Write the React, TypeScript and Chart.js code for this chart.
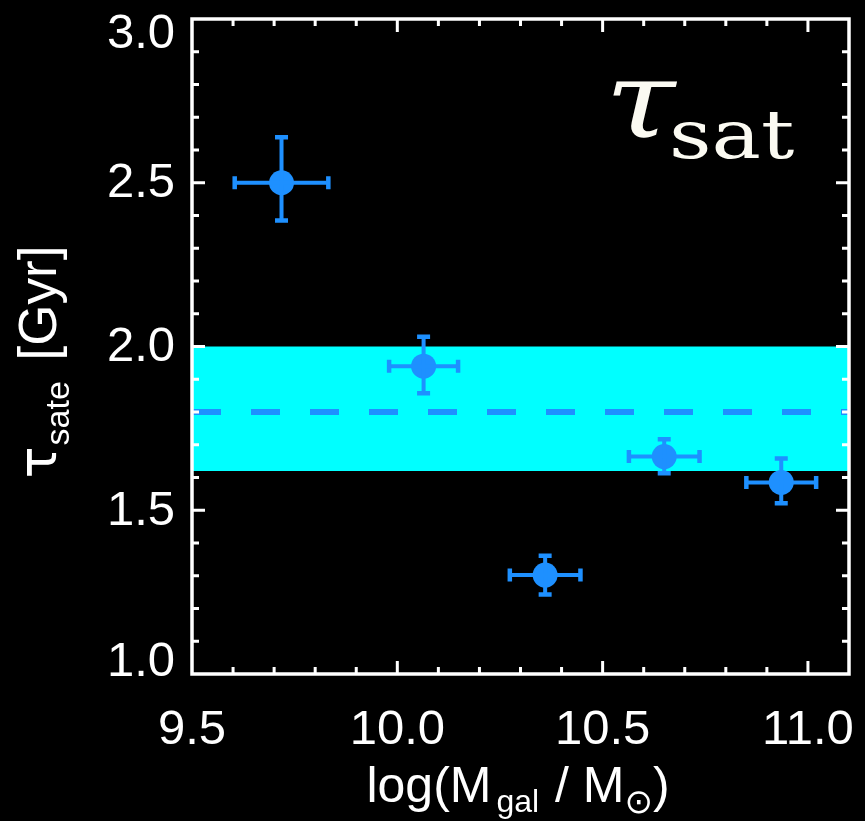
import React, { useEffect, useRef } from 'react';
import { Chart, registerables } from 'chart.js';

Chart.register(...registerables);

// ---- data ----
const massX = [9.718, 10.064, 10.36, 10.65, 10.935];
const massErr = [0.114, 0.084, 0.086, 0.086, 0.085];
const tauY = [2.5, 1.94, 1.302, 1.664, 1.585];
const tauErrUp = [0.139, 0.09, 0.059, 0.053, 0.073];
const tauErrDown = [0.115, 0.083, 0.059, 0.051, 0.064];

const bandLow = 1.62;
const bandHigh = 2.0;
const bandMid = 1.8;

const xMin = 9.5;
const xMax = 11.1;
const yMin = 1.0;
const yMax = 3.0;

const xTickValues = [9.5, 10.0, 10.5, 11.0];
const xTickLabels = ['9.5', '10.0', '10.5', '11.0'];
const yTickValues = [1.0, 1.5, 2.0, 2.5, 3.0];
const yTickLabels = ['1.0', '1.5', '2.0', '2.5', '3.0'];
const minorStep = 0.1;

const BLUE = '#1E90FF';
const CYAN = '#00FFFF';
const WHITE = '#ffffff';
const SANS = "'Liberation Sans', 'DejaVu Sans', Arial, sans-serif";
const SERIF = "'DejaVu Serif', 'Liberation Serif', serif";

function minorValues(lo: number, hi: number, majors: number[]) {
  const out: number[] = [];
  const n = Math.round((hi - lo) / minorStep);
  for (let i = 0; i <= n; i++) {
    const v = Math.round((lo + i * minorStep) * 1000) / 1000;
    if (!majors.some((m) => Math.abs(m - v) < 1e-6)) out.push(v);
  }
  return out;
}

type Run = { t: string; size: number; dy: number; gap?: number; font?: string };

function drawRuns(ctx: CanvasRenderingContext2D, runs: Run[], x: number, y: number) {
  let cx = x;
  for (const r of runs) {
    cx += r.gap || 0;
    ctx.font = `${r.size}px ${r.font || SANS}`;
    ctx.fillText(r.t, cx, y + r.dy);
    cx += ctx.measureText(r.t).width;
  }
}

function runsWidth(ctx: CanvasRenderingContext2D, runs: Run[]) {
  let w = 0;
  for (const r of runs) {
    ctx.font = `${r.size}px ${r.font || SANS}`;
    w += ctx.measureText(r.t).width + (r.gap || 0);
  }
  return w;
}

const decorPlugin = {
  id: 'decor',
  afterDatasetsDraw(chart: any) {
    const ctx: CanvasRenderingContext2D = chart.ctx;
    const xs = chart.scales.x;
    const ys = chart.scales.y;
    ctx.save();
    ctx.strokeStyle = BLUE;
    ctx.lineCap = 'butt';
    const cap = 6.5;
    for (let i = 0; i < massX.length; i++) {
      const px = xs.getPixelForValue(massX[i]);
      const py = ys.getPixelForValue(tauY[i]);
      const xl = xs.getPixelForValue(massX[i] - massErr[i]);
      const xr = xs.getPixelForValue(massX[i] + massErr[i]);
      const yt = ys.getPixelForValue(tauY[i] + tauErrUp[i]);
      const yb = ys.getPixelForValue(tauY[i] - tauErrDown[i]);
      ctx.lineWidth = 4;
      ctx.beginPath();
      ctx.moveTo(xl, py);
      ctx.lineTo(xr, py);
      ctx.moveTo(px, yt);
      ctx.lineTo(px, yb);
      ctx.stroke();
      ctx.lineWidth = 4.5;
      ctx.beginPath();
      ctx.moveTo(xl, py - cap);
      ctx.lineTo(xl, py + cap);
      ctx.moveTo(xr, py - cap);
      ctx.lineTo(xr, py + cap);
      ctx.moveTo(px - cap, yt);
      ctx.lineTo(px + cap, yt);
      ctx.moveTo(px - cap, yb);
      ctx.lineTo(px + cap, yb);
      ctx.stroke();
    }
    ctx.restore();
  },
  afterDraw(chart: any) {
    const ctx: CanvasRenderingContext2D = chart.ctx;
    const xs = chart.scales.x;
    const ys = chart.scales.y;
    const a = chart.chartArea;
    ctx.save();
    ctx.strokeStyle = WHITE;
    ctx.lineWidth = 3.5;
    ctx.lineCap = 'butt';
    ctx.strokeRect(a.left, a.top, a.right - a.left, a.bottom - a.top);

    const major = 13;
    const minor = 7;
    ctx.lineWidth = 3;
    ctx.beginPath();
    const xMinor = minorValues(xMin, xMax, xTickValues);
    const yMinor = minorValues(yMin, yMax, yTickValues);
    const xt = (v: number, len: number) => {
      const p = xs.getPixelForValue(v);
      if (p <= a.left + 2 || p >= a.right - 2) return;
      ctx.moveTo(p, a.bottom);
      ctx.lineTo(p, a.bottom - len);
      ctx.moveTo(p, a.top);
      ctx.lineTo(p, a.top + len);
    };
    const yt = (v: number, len: number) => {
      const p = ys.getPixelForValue(v);
      if (p <= a.top + 2 || p >= a.bottom - 2) return;
      ctx.moveTo(a.left, p);
      ctx.lineTo(a.left + len, p);
      ctx.moveTo(a.right, p);
      ctx.lineTo(a.right - len, p);
    };
    xTickValues.forEach((v) => xt(v, major));
    xMinor.forEach((v) => xt(v, minor));
    yTickValues.forEach((v) => yt(v, major));
    yMinor.forEach((v) => yt(v, minor));
    ctx.stroke();

    ctx.fillStyle = WHITE;

    // y tick labels (end labels kept inside the axis range)
    ctx.font = `49px ${SANS}`;
    ctx.textAlign = 'right';
    ctx.textBaseline = 'middle';
    yTickValues.forEach((v, i) => {
      let p = ys.getPixelForValue(v);
      if (i === 0) p -= 13;
      if (i === yTickValues.length - 1) p += 14;
      ctx.fillText(yTickLabels[i], a.left - 17, p + 1);
    });

    // x-axis title
    ctx.textBaseline = 'alphabetic';
    ctx.textAlign = 'left';
    const xRuns: Run[] = [
      { t: 'log(M', size: 50, dy: 0 },
      { t: 'gal', size: 32, dy: 10, gap: 5 },
      { t: ' / M', size: 50, dy: 0, gap: 2 },
      { t: '\u2299', size: 34, dy: 11, font: "'DejaVu Sans', sans-serif" },
      { t: ')', size: 50, dy: 0 },
    ];
    const xw = runsWidth(ctx, xRuns);
    drawRuns(ctx, xRuns, 518 - xw / 2, 802);

    // y-axis title (rotated)
    const yRuns: Run[] = [
      { t: '\u03C4', size: 53, dy: 0, font: "'DejaVu Sans', sans-serif" },
      { t: 'sate', size: 34, dy: 13, gap: 1 },
      { t: ' [Gyr]', size: 53, dy: 0, gap: 6 },
    ];
    const yw = runsWidth(ctx, yRuns);
    ctx.save();
    ctx.translate(56, 362 + yw / 2);
    ctx.rotate(-Math.PI / 2);
    drawRuns(ctx, yRuns, 0, 0);
    ctx.restore();

    // panel label
    ctx.fillStyle = '#fbfaf2';
    ctx.save();
    ctx.translate(a.right - 244, 137);
    ctx.scale(1.2, 1);
    ctx.font = `italic 106px ${SERIF}`;
    ctx.fillText('\u03C4', 0, 0);
    ctx.restore();
    ctx.save();
    ctx.translate(a.right - 180, 158);
    ctx.scale(1.22, 1);
    ctx.font = `68px ${SERIF}`;
    ctx.fillText('sat', 0, 0);
    ctx.restore();
    ctx.restore();
  },
};

const zeroPad = (s: any) => {
  s.paddingTop = 0;
  s.paddingBottom = 0;
  s.paddingLeft = 0;
  s.paddingRight = 0;
};

export default function App() {
  const ref = useRef<HTMLCanvasElement | null>(null);

  useEffect(() => {
    if (!ref.current) return;
    const chart = new Chart(ref.current, {
      type: 'scatter',
      data: {
        datasets: [
          {
            type: 'line',
            label: 'band high',
            data: [
              { x: xMin, y: bandHigh },
              { x: xMax, y: bandHigh },
            ],
            borderWidth: 0,
            pointRadius: 0,
            backgroundColor: CYAN,
            fill: '+1',
            order: 5,
          },
          {
            type: 'line',
            label: 'band low',
            data: [
              { x: xMin, y: bandLow },
              { x: xMax, y: bandLow },
            ],
            borderWidth: 0,
            pointRadius: 0,
            fill: false,
            order: 4,
          },
          {
            type: 'line',
            label: 'mean',
            data: [
              { x: xMin, y: bandMid },
              { x: xMax, y: bandMid },
            ],
            borderColor: BLUE,
            borderWidth: 6,
            borderDash: [29, 30],
            pointRadius: 0,
            fill: false,
            order: 3,
          },
          {
            type: 'scatter',
            label: 'tau',
            data: massX.map((x, i) => ({ x, y: tauY[i] })),
            backgroundColor: BLUE,
            borderWidth: 0,
            pointRadius: 12.5,
            order: 1,
          },
        ],
      } as any,
      options: {
        animation: false,
        responsive: false,
        devicePixelRatio: 1,
        layout: { padding: { top: 19, right: 16, left: 0, bottom: 0 } },
        plugins: {
          legend: { display: false },
          tooltip: { enabled: false },
          title: { display: false },
        },
        scales: {
          x: {
            type: 'linear',
            min: xMin,
            max: xMax,
            grid: { display: false, drawTicks: false },
            border: { display: false },
            afterBuildTicks: (s: any) => {
              s.ticks = xTickValues.map((v) => ({ value: v }));
            },
            afterFit: (s: any) => {
              s.height = 147;
              zeroPad(s);
            },
            ticks: {
              color: WHITE,
              padding: 27,
              maxRotation: 0,
              autoSkip: false,
              font: { family: SANS, size: 49 },
              callback: (_v: any, i: number) => xTickLabels[i],
            },
          },
          y: {
            type: 'linear',
            min: yMin,
            max: yMax,
            grid: { display: false, drawTicks: false },
            border: { display: false },
            afterBuildTicks: (s: any) => {
              s.ticks = yTickValues.map((v) => ({ value: v }));
            },
            afterFit: (s: any) => {
              s.width = 192;
              zeroPad(s);
            },
            ticks: {
              display: false,
              autoSkip: false,
              font: { family: SANS, size: 49 },
            },
          },
        },
      } as any,
      plugins: [decorPlugin],
    });
    return () => chart.destroy();
  }, []);

  return (
    <div
      style={{
        position: 'fixed',
        left: 0,
        top: 0,
        width: 865,
        height: 821,
        background: '#000',
      }}
    >
      <canvas ref={ref} width={865} height={821} style={{ display: 'block' }} />
    </div>
  );
}
